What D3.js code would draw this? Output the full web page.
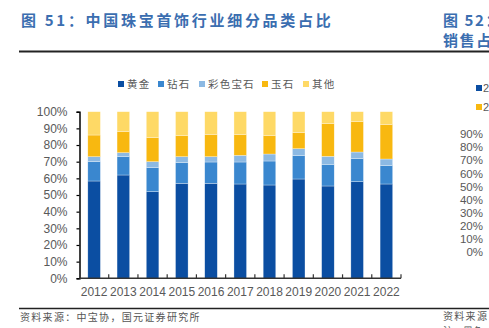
<!DOCTYPE html>
<html>
<head>
<meta charset="utf-8">
<script src="https://cdn.jsdelivr.net/npm/d3@7"></script>
<style>
  body { margin: 0; background: #fff; }
  svg { display: block; font-family: "Liberation Sans", Arial, sans-serif; }
</style>
</head>
<body>
<div id="chart"></div>
<script>
// Data
const years = ["2012", "2013", "2014", "2015", "2016", "2017", "2018", "2019", "2020", "2021", "2022"];
const seriesNames = ["黄金", "钻石", "彩色宝石", "玉石", "其他"];
const gold    = [58.4, 62.0, 52.0, 57.0, 57.0, 56.6, 56.0, 59.6, 55.4, 58.0, 56.6];
const diamond = [11.6, 11.0, 14.4, 12.4, 12.8, 13.2, 14.4, 14.0, 13.0, 13.8, 11.0];
const gems    = [3.0, 2.4, 3.6, 3.6, 3.2, 4.0, 4.2, 4.2, 4.8, 4.0, 4.0];
const jade    = [13.0, 12.6, 14.4, 12.6, 13.4, 12.4, 11.0, 9.6, 19.6, 18.2, 20.8];
const other   = [14.0, 12.0, 15.6, 14.4, 13.6, 13.8, 14.4, 12.6, 7.2, 6.0, 7.6];
const yTicks = [0, 10, 20, 30, 40, 50, 60, 70, 80, 90, 100];
const rightTicks = [0, 10, 20, 30, 40, 50, 60, 70, 80, 90];

const colors = ["#0b4ea2", "#3a87cf", "#8cb9e3", "#f8b810", "#fed966"];

const width = 489, height = 328;
const svg = d3.select("#chart").append("svg").attr("width", width).attr("height", height);

const cjk = "'Noto Sans CJK SC', sans-serif";

// Header
svg.append("text").attr("x", 21).attr("y", 26)
  .style("font-family", cjk)
  .style("font-size", "15px").style("font-weight", "bold").style("fill", "#3b6eb0")
  .style("letter-spacing", "2.7px")
  .text("图 51：中国珠宝首饰行业细分品类占比");
svg.append("text").attr("x", 443).attr("y", 26)
  .style("font-family", cjk)
  .style("font-size", "15px").style("font-weight", "bold").style("fill", "#3b6eb0")
  .style("letter-spacing", "1.6px")
  .text("图 52：");
svg.append("text").attr("x", 443).attr("y", 46)
  .style("font-family", cjk)
  .style("font-size", "15px").style("font-weight", "bold").style("fill", "#3b6eb0")
  .style("letter-spacing", "1.6px")
  .text("销售占比");
svg.append("line").attr("x1", 19).attr("x2", 489).attr("y1", 51.5).attr("y2", 51.5)
  .style("stroke", "#222").style("stroke-width", 2);

// Footer
svg.append("line").attr("x1", 19).attr("x2", 489).attr("y1", 308.5).attr("y2", 308.5)
  .style("stroke", "#222").style("stroke-width", 1.6);
svg.append("text").attr("x", 20).attr("y", 321)
  .style("font-family", cjk)
  .style("font-size", "10px").style("fill", "#555").style("letter-spacing", "1.3px")
  .text("资料来源：中宝协，国元证券研究所");
svg.append("text").attr("x", 443).attr("y", 320)
  .style("font-family", cjk)
  .style("font-size", "10px").style("fill", "#555").style("letter-spacing", "1.3px")
  .text("资料来源：");
svg.append("text").attr("x", 443).attr("y", 335)
  .style("font-family", cjk)
  .style("font-size", "10px").style("fill", "#555")
  .text("注：黑色");

// Main chart scales
const x = d3.scaleBand().domain(years).range([79.5, 401]).paddingInner(0.57).paddingOuter(0.285);
const y = d3.scaleLinear().domain([0, 100]).range([278.3, 111.7]);

const rows = years.map((yr, i) => ({
  year: yr, 黄金: gold[i], 钻石: diamond[i], 彩色宝石: gems[i], 玉石: jade[i], 其他: other[i]
}));
const stacked = d3.stack().keys(seriesNames)(rows);

const g = svg.append("g");
stacked.forEach((layer, k) => {
  g.selectAll(null).data(layer).enter().append("rect")
    .attr("x", d => x(d.data.year))
    .attr("width", x.bandwidth())
    .attr("y", d => y(d[1]))
    .attr("height", d => y(d[0]) - y(d[1]))
    .style("fill", colors[k])
    .style("stroke", "#fff").style("stroke-width", 0.5).style("stroke-opacity", 0.6);
});

// Y axis
const yAxis = svg.append("g").attr("transform", "translate(79.5,0)")
  .call(d3.axisLeft(y).tickValues(yTicks).tickFormat(d => d + "%").tickSize(3).tickPadding(9));
yAxis.select(".domain").style("stroke", "#000").style("stroke-width", 1.5);
yAxis.selectAll(".tick line").style("stroke", "#000").style("stroke-width", 1.2);
yAxis.selectAll("text").style("font-size", "12px").style("fill", "#595959");

// X axis
const xAxis = svg.append("g").attr("transform", "translate(0,278.3)")
  .call(d3.axisBottom(x).tickSize(0).tickPadding(9));
xAxis.select(".domain").attr("d", "M79.5,0H401").style("stroke", "#333").style("stroke-width", 1.5);
xAxis.selectAll("text").style("font-size", "12px").style("fill", "#595959");
// tick marks between categories, pointing up
const step = x.step();
const bounds = d3.range(1, years.length + 1).map(i => x(years[0]) - (step - x.bandwidth()) / 2 + i * step);
xAxis.selectAll(".bound").data(bounds).enter().append("line")
  .attr("x1", d => d).attr("x2", d => d).attr("y1", 0).attr("y2", -4)
  .style("stroke", "#333").style("stroke-width", 1.2);

// Legend
const legendX = [118, 158, 199, 262, 303];
const legend = svg.append("g");
seriesNames.forEach((name, i) => {
  legend.append("rect").attr("x", legendX[i]).attr("y", 81).attr("width", 6).attr("height", 6)
    .style("fill", colors[i]);
  legend.append("text").attr("x", legendX[i] + 9).attr("y", 84).attr("dy", "0.35em")
    .style("font-family", cjk)
    .style("font-size", "10.5px").style("fill", "#595959").style("letter-spacing", "1.2px")
    .text(name);
});

// Partial neighbouring chart on the right
const y2 = d3.scaleLinear().domain([0, 90]).range([252.3, 134]);
const rightAxis = svg.append("g").attr("transform", "translate(483,0)")
  .call(d3.axisLeft(y2).tickValues(rightTicks).tickFormat(d => d + "%").tickSize(0).tickPadding(0));
rightAxis.select(".domain").remove();
rightAxis.selectAll("text").style("font-size", "11.5px").style("fill", "#595959");
[["#0b4ea2", 88], ["#f8b810", 107]].forEach(([c, yy]) => {
  svg.append("rect").attr("x", 476).attr("y", yy - 3).attr("width", 6).attr("height", 6).style("fill", c);
  svg.append("text").attr("x", 483).attr("y", yy).attr("dy", "0.35em")
    .style("font-size", "11px").style("fill", "#595959").text("2");
});
</script>
</body>
</html>
